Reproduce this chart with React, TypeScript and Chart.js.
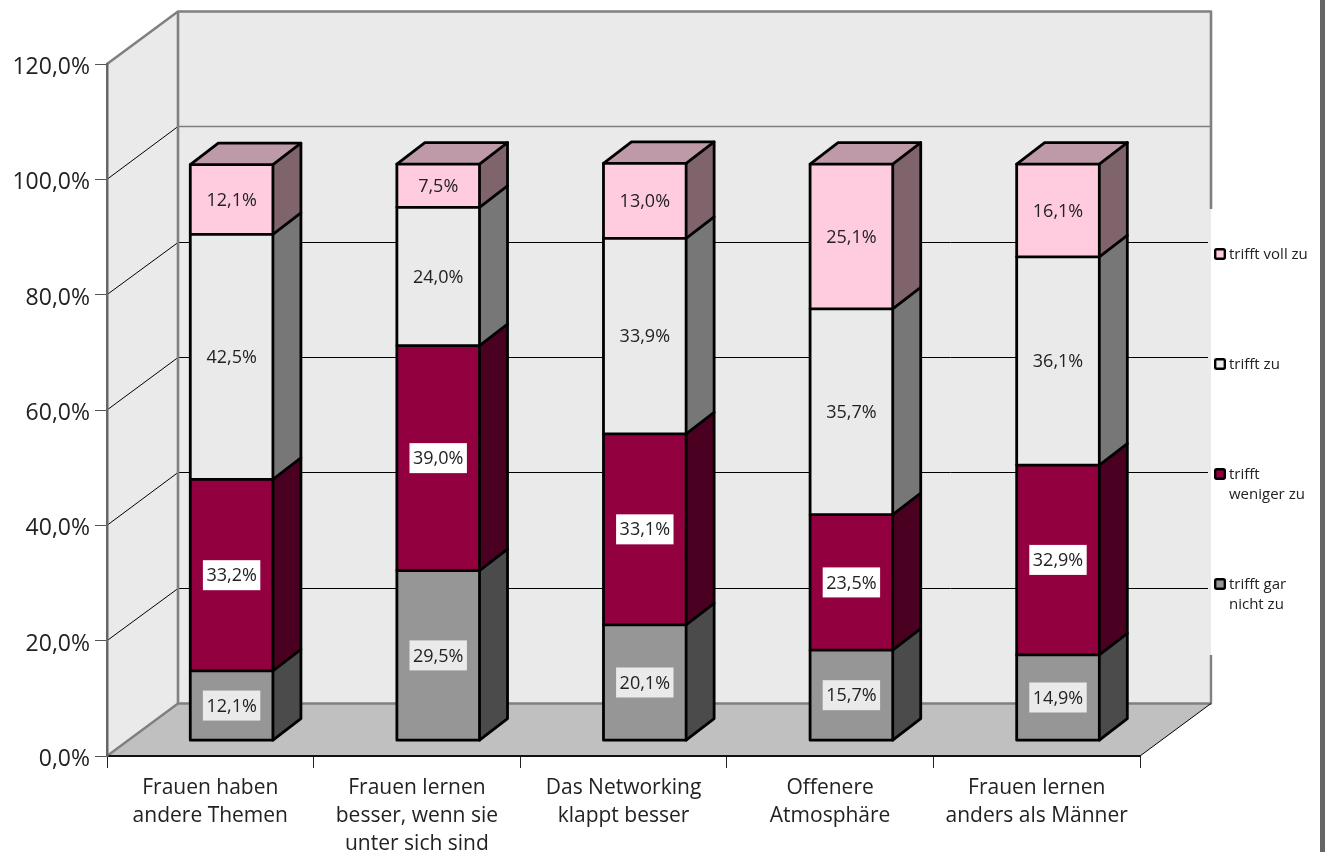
import React, { useEffect, useRef } from "react";
import { Chart, registerables } from "chart.js";

Chart.register(...registerables);

const categories = [
  ["Frauen haben", "andere Themen"],
  ["Frauen lernen", "besser, wenn sie", "unter sich sind"],
  ["Das Networking", "klappt besser"],
  ["Offenere", "Atmosphäre"],
  ["Frauen lernen", "anders als Männer"],
];
const garNicht = [12.1, 29.5, 20.1, 15.7, 14.9];
const weniger = [33.2, 39.0, 33.1, 23.5, 32.9];
const zu = [42.5, 24.0, 33.9, 35.7, 36.1];
const vollZu = [12.1, 7.5, 13.0, 25.1, 16.1];
const seriesNames = ["trifft gar nicht zu", "trifft weniger zu", "trifft zu", "trifft voll zu"];
const yTicks = [0, 20, 40, 60, 80, 100, 120];

const FONT = '"Open Sans", sans-serif';
const fronts = ["#969696", "#93003F", "#EAEAEA", "#FFCCDF"];
const sides = ["#4B4B4B", "#4A0020", "#777777", "#80646C"];
const topFace = "#BE9AA8";
const labelBoxes = ["#EAEAEA", "#FFFFFF", null, null];
const legendRows = [
  { i: 3, lines: ["trifft voll zu"], y: 254 },
  { i: 2, lines: ["trifft zu"], y: 364 },
  { i: 1, lines: ["trifft", "weniger zu"], y: 474 },
  { i: 0, lines: ["trifft gar", "nicht zu"], y: 584 },
];

const WALL = { dx: 71, dy: -52.5 };
const BAR = { dx: 21.3, dy: -15.3, depthX: 28, depthY: -21.5 };

const fmt = (v: number) => v.toFixed(1).replace(".", ",") + "%";

const line = (c: any, pts: number[][], color: string, w: number) => {
  c.beginPath();
  pts.forEach((p, i) => (i ? c.lineTo(p[0], p[1]) : c.moveTo(p[0], p[1])));
  c.strokeStyle = color;
  c.lineWidth = w;
  c.stroke();
};
const poly = (c: any, pts: number[][], color: string) => {
  c.beginPath();
  pts.forEach((p, i) => (i ? c.lineTo(p[0], p[1]) : c.moveTo(p[0], p[1])));
  c.closePath();
  c.fillStyle = color;
  c.fill();
};

const backdrop = {
  id: "backdrop",
  beforeDraw(chart: any) {
    const c = chart.ctx;
    const { x: sx, y: sy } = chart.scales;
    const L = sx.left, R = sx.right;
    const y0 = sy.getPixelForValue(0), yT = sy.getPixelForValue(120);
    const { dx, dy } = WALL;
    c.save();
    c.lineJoin = "round";
    // right frame strip
    c.fillStyle = "#666666";
    c.fillRect(1320, 0, 5, 852);
    poly(c, [[L, y0], [L + dx, y0 + dy], [L + dx, yT + dy], [L, yT]], "#EAEAEA");
    poly(c, [[L + dx, yT + dy], [R + dx, yT + dy], [R + dx, y0 + dy], [L + dx, y0 + dy]], "#EAEAEA");
    poly(c, [[L, y0], [R, y0], [R + dx, y0 + dy], [L + dx, y0 + dy]], "#C0C0C0");
    yTicks.forEach((v) => {
      if (v === 0 || v === 120) return;
      const y = sy.getPixelForValue(v);
      const yb = Math.floor(y + dy) + 0.5;
      line(c, [[L, y], [L + dx, yb]], "#000", 1);
      if (v === 100) line(c, [[L + dx, yb], [R + dx, yb]], "#808080", 1.6);
      else line(c, [[L + dx, yb], [R + dx - 3, yb]], "#000", 1);
    });
    line(c, [[L, yT], [L + dx, yT + dy], [R + dx, yT + dy], [R + dx, 209]], "#808080", 2.6);
    line(c, [[R + dx, 655], [R + dx, y0 + dy], [L + dx, y0 + dy], [L, y0]], "#808080", 2.4);
    line(c, [[L + dx, yT + dy], [L + dx, y0 + dy]], "#808080", 2.6);
    line(c, [[R + dx, y0 + dy], [R, y0]], "#000", 1);
    // legend
    c.textBaseline = "middle";
    c.textAlign = "left";
    c.font = `15px ${FONT}`;
    legendRows.forEach((r) => {
      c.beginPath();
      c.roundRect(1215.2, r.y - 4.8, 9.6, 9.6, 1.5);
      c.fillStyle = fronts[r.i];
      c.fill();
      c.strokeStyle = "#000";
      c.lineWidth = 2.4;
      c.stroke();
      c.fillStyle = "#222";
      r.lines.forEach((t, k) => c.fillText(t, 1229, r.y + 1 + k * 20));
    });
    c.restore();
  },
};

const bars3d = {
  id: "bars3d",
  beforeDatasetsDraw(chart: any) {
    const c = chart.ctx;
    c.save();
    c.translate(BAR.dx, BAR.dy);
  },
  afterDatasetsDraw(chart: any) {
    const c = chart.ctx;
    const { depthX: ax, depthY: ay } = BAR;
    c.lineJoin = "round";
    c.lineCap = "round";
    const n = chart.data.labels.length;
    for (let b = 0; b < n; b++) {
      const els = chart.data.datasets.map((_: any, d: number) => chart.getDatasetMeta(d).data[b]);
      const box = (e: any) => {
        const p = e.getProps(["x", "y", "base", "width"], true);
        return { l: p.x - p.width / 2, r: p.x + p.width / 2, t: p.y, b: p.base };
      };
      els.forEach((e: any, d: number) => {
        const q = box(e);
        poly(c, [[q.r, q.t], [q.r + ax, q.t + ay], [q.r + ax, q.b + ay], [q.r, q.b]], sides[d]);
      });
      const first = box(els[0]);
      const last = box(els[els.length - 1]);
      poly(c, [[last.l, last.t], [last.l + ax, last.t + ay], [last.r + ax, last.t + ay], [last.r, last.t]], topFace);
      const ink = "#000";
      const W = 2.8;
      els.forEach((e: any) => {
        const q = box(e);
        line(c, [[q.l, q.t], [q.r, q.t], [q.r + ax, q.t + ay]], ink, W);
      });
      line(c, [[first.l, first.b], [first.r, first.b], [first.r + ax, first.b + ay], [first.r + ax, last.t + ay], [last.l + ax, last.t + ay], [last.l, last.t], [first.l, first.b]], ink, W);
      line(c, [[first.r, first.b], [last.r, last.t]], ink, W);
      c.font = `18px ${FONT}`;
      c.textAlign = "center";
      c.textBaseline = "middle";
      els.forEach((e: any, d: number) => {
        const q = box(e);
        const txt = fmt(chart.data.datasets[d].data[b]);
        const cx = (q.l + q.r) / 2;
        const cy = (q.t + q.b) / 2;
        const bg = labelBoxes[d];
        if (bg) {
          const w = c.measureText(txt).width + 7;
          c.fillStyle = bg;
          c.fillRect(cx - w / 2, cy - 15, w, 30);
        }
        c.fillStyle = "#222";
        c.fillText(txt, cx, cy + 1);
      });
    }
    c.restore();
  },
};

export default function App() {
  const ref = useRef<HTMLCanvasElement>(null);
  useEffect(() => {
    document.body.style.margin = "0";
    const series = [garNicht, weniger, zu, vollZu];
    const chart = new Chart(ref.current as HTMLCanvasElement, {
      type: "bar",
      data: {
        labels: categories as any,
        datasets: series.map((data, i) => ({
          label: seriesNames[i],
          data,
          backgroundColor: fronts[i],
          borderWidth: 0,
          categoryPercentage: 1,
          barPercentage: 0.4,
          clip: false as any,
        })),
      },
      options: {
        responsive: false,
        animation: false,
        layout: { padding: { top: 64, right: 185, left: 0, bottom: 0 } },
        plugins: { legend: { display: false }, tooltip: { enabled: false } },
        scales: {
          x: {
            stacked: true,
            afterFit: (s: any) => { s.height = 96; },
            grid: { drawOnChartArea: false, tickLength: 12, color: "#222", lineWidth: 1 },
            border: { color: "#111", width: 2 },
            ticks: {
              autoSkip: false,
              maxRotation: 0,
              minRotation: 0,
              padding: 6,
              color: "#222",
              font: { family: FONT, size: 21, lineHeight: "28px" },
            },
          },
          y: {
            stacked: true,
            min: 0,
            max: 120,
            afterFit: (s: any) => { s.width = 107; },
            afterBuildTicks: (s: any) => { s.ticks = yTicks.map((value) => ({ value })); },
            grid: { drawOnChartArea: false, tickLength: 12, color: "#555", lineWidth: 1 },
            border: { color: "#666", width: 2.5 },
            ticks: {
              padding: 5,
              color: "#222",
              // an empty first line nudges the label down by half of the small line height
              font: { family: FONT, size: 23, lineHeight: "7px" },
              callback: (v: any) => ["", fmt(Number(v))],
            },
          },
        },
      },
      plugins: [backdrop, bars3d],
    } as any);
    return () => chart.destroy();
  }, []);
  return <canvas ref={ref} width={1325} height={852} style={{ display: "block" }} />;
}
